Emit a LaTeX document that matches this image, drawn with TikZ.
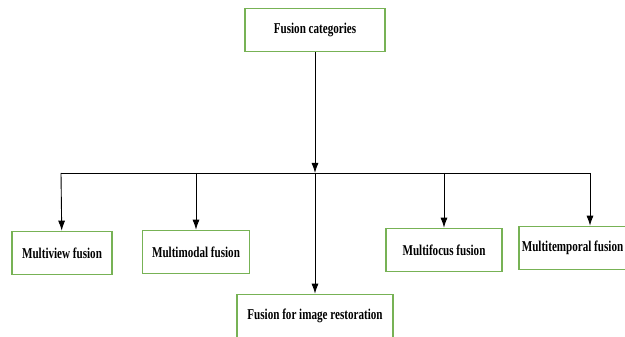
\documentclass[tikz,border=0pt]{standalone}
\usepackage{fontspec}
\setmainfont[FakeStretch=0.74]{Liberation Serif}
\usetikzlibrary{arrows.meta}
\definecolor{boxgreen}{HTML}{77B255}
\begin{document}
\begin{tikzpicture}[
    x=1pt, y=-1pt,
    box/.style={draw=boxgreen, line width=1.6pt, minimum height=43pt, inner xsep=4pt, font=\fontsize{15}{18}\selectfont\bfseries, align=center},
    arrow/.style={-{Latex[length=10pt,width=7pt]}, line width=0.9pt},
    line/.style={line width=0.9pt}
]
    \useasboundingbox (0,0) rectangle (625,337);
    \clip (0,0) rectangle (625,337);

    \node[box, minimum width=140pt] (cats) at (315,30) {Fusion categories};
    \node[box, minimum width=100pt] (view) at (62,253) {Multiview fusion};
    \node[box, minimum width=107pt] (modal) at (196,252) {Multimodal fusion};
    \node[box, minimum width=116pt] (focus) at (444,250) {Multifocus fusion};
    \node[box, anchor=west, inner xsep=3pt] (temporal) at (518,248) {Multitemporal fusion};
    \node[box, minimum width=156pt] (restore) at (315,316) {Fusion for image restoration};

    \coordinate (hub) at (315,173);
    \coordinate (left) at (61,173);
    \coordinate (right) at (590,173);

    \draw[line] (left) -- (right);
    \draw[arrow] (cats) -- (hub);
    \draw[arrow] (hub) -- (restore);
    \draw[arrow] (left) -- (view);
    \draw[arrow] (modal |- hub) -- (modal);
    \draw[arrow] (focus |- hub) -- (focus);
    \draw[arrow] (right) -- (right |- temporal.north);
\end{tikzpicture}
\end{document}
